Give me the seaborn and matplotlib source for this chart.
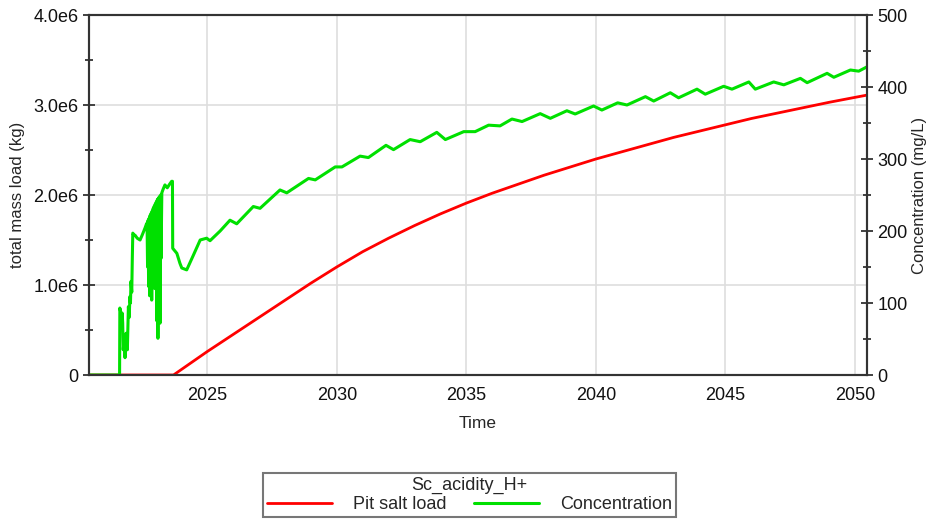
import numpy as np
import pandas as pd
import matplotlib
matplotlib.use("Agg")
import matplotlib.pyplot as plt
import seaborn as sns
from matplotlib.ticker import MultipleLocator, FuncFormatter

# ---------------- data ----------------
load_years = [2020.44, 2023.70, 2025.0, 2026.0, 2027.0, 2028.0, 2029.0, 2030.0, 2031.0,
              2032.0, 2033.0, 2034.0, 2035.0, 2036.0, 2037.0, 2038.0, 2039.0, 2040.0,
              2041.0, 2042.0, 2043.0, 2044.0, 2045.0, 2046.0, 2047.0, 2048.0, 2049.0,
              2050.0, 2050.46]
load_kg = [0, 0, 0.26e6, 0.45e6, 0.64e6, 0.83e6, 1.02e6, 1.20e6, 1.37e6,
           1.52e6, 1.66e6, 1.79e6, 1.91e6, 2.02e6, 2.12e6, 2.22e6, 2.31e6, 2.40e6,
           2.48e6, 2.56e6, 2.64e6, 2.71e6, 2.78e6, 2.85e6, 2.91e6, 2.97e6, 3.03e6,
           3.085e6, 3.11e6]

conc_years = [2020.44, 2021.62, 2021.63, 2021.66, 2021.70, 2021.72, 2021.74, 2021.76,
              2021.80, 2021.83, 2021.85, 2021.87, 2021.90, 2021.92, 2021.94, 2021.96,
              2021.99, 2022.02, 2022.04, 2022.06, 2022.09, 2022.11, 2022.13, 2022.17,
              2022.22, 2022.30, 2022.41, 2022.50, 2022.60, 2022.66,
              2022.68, 2022.70, 2022.72, 2022.74, 2022.76, 2022.78, 2022.80, 2022.82,
              2022.84, 2022.86, 2022.88, 2022.90, 2022.92, 2022.94, 2022.96, 2022.98,
              2023.00, 2023.02, 2023.04, 2023.06, 2023.08, 2023.10, 2023.12, 2023.14,
              2023.16, 2023.18, 2023.20, 2023.22, 2023.25, 2023.30, 2023.37, 2023.46,
              2023.55, 2023.63, 2023.66, 2023.67, 2023.83, 2023.95, 2024.02, 2024.21,
              2024.45, 2024.73, 2024.98, 2025.11, 2025.50, 2025.88, 2026.14, 2026.78,
              2027.04, 2027.81, 2028.07, 2028.91, 2029.17, 2029.94, 2030.20, 2030.90,
              2031.22, 2031.90, 2032.19, 2032.83, 2033.22, 2033.86, 2034.19, 2034.90,
              2035.34, 2035.86, 2036.30, 2036.76, 2037.15, 2037.85, 2038.24, 2038.88,
              2039.20, 2039.91, 2040.23, 2040.84, 2041.20, 2041.91, 2042.23, 2042.87,
              2043.19, 2043.90, 2044.22, 2044.93, 2045.25, 2045.90, 2046.15, 2046.86,
              2047.25, 2047.89, 2048.15, 2048.92, 2049.18, 2049.82, 2050.14, 2050.46]
conc_mgL = [0, 0, 93, 88, 67, 86, 72, 35,
            50, 24, 45, 58, 48, 35, 65, 95,
            80, 109, 100, 130, 115, 160, 197, 195,
            194, 190, 187.5, 195, 204, 210,
            211, 150, 215, 123, 218, 110, 222, 160,
            225, 104, 228, 130, 232, 170, 235, 120,
            238, 150, 241, 75, 244, 51, 246, 110,
            248, 72, 250, 162, 253, 258, 264, 260,
            265, 269, 269, 176, 169, 155, 148.6, 146,
            165, 187.5, 190, 186.5, 200, 215, 210, 234,
            231.5, 257, 253, 273, 271, 289, 289, 304,
            302, 319, 313, 327, 324, 337, 327, 338,
            338, 347, 346, 355.5, 352, 363, 356.5, 367,
            362.5, 373.6, 368, 378, 375, 386.6, 380.5, 392,
            385, 397, 390, 401, 397, 407, 397, 407,
            403, 412, 406, 419, 413.5, 423.6, 422, 428]

series_title = "Sc_acidity_H+"
load_label = "Pit salt load"
conc_label = "Concentration"

df_load = pd.DataFrame({"Time": load_years, "load": load_kg})
df_conc = pd.DataFrame({"Time": conc_years, "conc": conc_mgL})

# ---------------- style ----------------
sns.set_style("white")
plt.rcParams["font.family"] = ["Liberation Sans", "DejaVu Sans"]

fig = plt.figure(figsize=(9.29, 5.20), dpi=100)
ax = fig.add_axes([89 / 929, 1 - 375 / 520, (867 - 89) / 929, (375 - 15) / 520])
ax2 = ax.twinx()

red = "#FF0000"
green = "#00E000"

sns.lineplot(data=df_load, x="Time", y="load", ax=ax, color=red, lw=2,
             estimator=None, sort=False, label=load_label, legend=False)
sns.lineplot(data=df_conc, x="Time", y="conc", ax=ax2, color=green, lw=2.2,
             estimator=None, sort=False, label=conc_label, legend=False)

ax.set_xlim(2020.44, 2050.46)
ax.set_ylim(0, 4e6)
ax2.set_ylim(0, 500)

ax.set_xticks([2025, 2030, 2035, 2040, 2045, 2050])
ax.yaxis.set_major_locator(MultipleLocator(1e6))
ax.yaxis.set_minor_locator(MultipleLocator(0.5e6))
ax2.yaxis.set_major_locator(MultipleLocator(100))
ax2.yaxis.set_minor_locator(MultipleLocator(50))

ax.yaxis.set_major_formatter(FuncFormatter(lambda v, p: "0" if v == 0 else f"{v/1e6:.1f}e6"))
ax.xaxis.set_major_formatter(FuncFormatter(lambda v, p: f"{int(round(v))}"))

ax.grid(True, which="major", color="#dedede", lw=1.2)
ax2.grid(False)
ax.set_axisbelow(True)

spine_c = "#333333"
for a in (ax, ax2):
    for s in a.spines.values():
        s.set_color(spine_c)
        s.set_linewidth(1.5)
    a.tick_params(which="both", direction="inout", color=spine_c, width=1.3,
                  labelsize=13, labelcolor="#111111")
    a.tick_params(which="major", length=8)
    a.tick_params(which="minor", length=6)

ax.tick_params(axis="x", pad=5)
ax.set_xlabel("Time", fontsize=12.5, labelpad=8)
ax.set_ylabel("total mass load (kg)", fontsize=12, labelpad=6)
ax2.set_ylabel("Concentration (mg/L)", fontsize=12, labelpad=3)

h1, l1 = ax.get_legend_handles_labels()
h2, l2 = ax2.get_legend_handles_labels()
leg = fig.legend(h1 + h2, l1 + l2, title=series_title, ncol=2, loc="center",
                 bbox_to_anchor=(469.5 / 929, 1 - 495 / 520), frameon=True,
                 fancybox=False, edgecolor="#555555", fontsize=13, title_fontsize=13,
                 handlelength=3.6, handletextpad=1.2, columnspacing=1.5,
                 borderpad=0.2, labelspacing=0.15, borderaxespad=0)
leg.get_frame().set_linewidth(1.5)

fig.savefig("out.png", dpi=100)
